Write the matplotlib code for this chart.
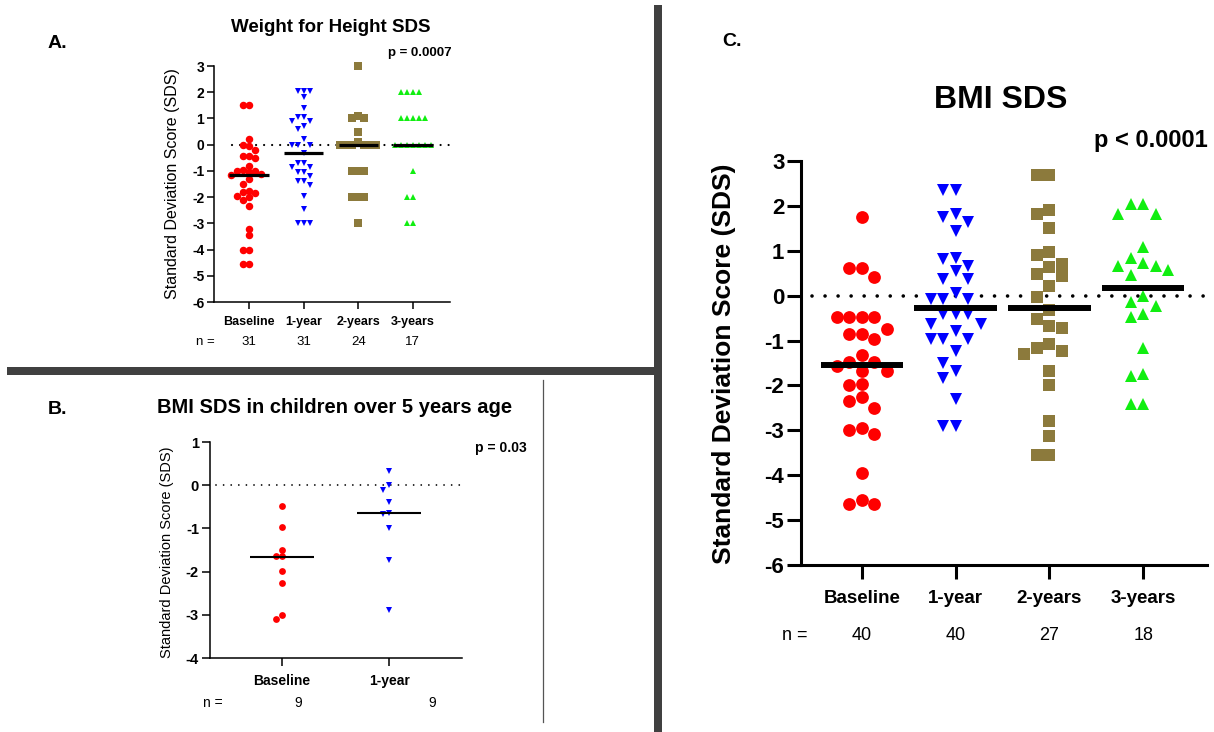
import numpy as np
import matplotlib
matplotlib.use("Agg")
import matplotlib.pyplot as plt
from matplotlib.patches import Rectangle
from matplotlib.lines import Line2D
from matplotlib.transforms import offset_copy

plt.rcParams['font.family'] = ['Liberation Sans', 'DejaVu Sans']
plt.rcParams['axes.unicode_minus'] = False

W, H = 1214, 732

# ---- data ----
# A. Weight for Height SDS
groups_a = ['Baseline', '1-year', '2-years', '3-years']
n_a = [31, 31, 24, 17]
a_baseline = [1.5, 1.5, 0.2, 0.0, -0.05, -0.2, -0.45, -0.45, -0.5, -0.8, -0.95, -1.0, -1.0,
              -1.05, -1.1, -1.15, -1.3, -1.5, -1.75, -1.8, -1.85, -1.95, -2.0, -2.1, -2.35,
              -3.2, -3.45, -4.0, -4.0, -4.55, -4.55]
a_1year = [2.05, 2.05, 2.05, 1.8, 1.4, 1.05, 1.05, 0.9, 0.9, 0.7, 0.6, 0.2, 0.0, 0.0, 0.0,
           -0.3, -0.7, -0.7, -0.85, -0.85, -1.05, -1.05, -1.2, -1.4, -1.4, -1.55, -1.95,
           -2.45, -3.0, -3.0, -3.0]
a_2years = [3.0, 1.1, 1.0, 1.0, 0.5, 0.1, 0.0, 0.0, 0.0, 0.0, 0.0, 0.0,
            -1.0, -1.0, -1.0, -2.0, -2.0, -2.0, -3.0]
a_3years = [2.0, 2.0, 2.0, 2.0, 1.0, 1.0, 1.0, 1.0, 1.0, 0.0, 0.0, 0.0, 0.0, 0.0, 0.0, 0.0,
            -1.0, -2.0, -2.0, -3.0, -3.0]
med_a = [-1.15, -0.3, 0.0, 0.0]

# B. BMI SDS in children over 5 years age
groups_b = ['Baseline', '1-year']
n_b = [9, 9]
b_baseline = [-0.49, -0.97, -1.49, -1.63, -1.65, -1.98, -2.26, -3.0, -3.09]
b_1year = [0.32, 0.01, -0.12, -0.39, -0.64, -0.66, -0.99, -1.72, -2.88]
med_b = [-1.67, -0.64]

# C. BMI SDS
groups_c = ['Baseline', '1-year', '2-years', '3-years']
n_c = [40, 40, 27, 18]
c_baseline = [1.75, 0.61, 0.61, 0.42, -0.47, -0.47, -0.47, -0.47, -0.74, -0.85, -0.85, -0.96,
              -1.33, -1.48, -1.48, -1.56, -1.67, -1.67, -1.96, -1.98, -2.26, -2.35, -2.5,
              -2.94, -2.99, -3.09, -3.94, -4.56, -4.65, -4.65]
c_1year = [2.35, 2.35, 1.83, 1.75, 1.64, 1.45, 0.84, 0.82, 0.67, 0.56, 0.37, 0.37, 0.07,
           -0.07, -0.07, -0.07, -0.41, -0.41, -0.41, -0.63, -0.63, -0.78, -0.96, -0.96, -0.96,
           -1.23, -1.49, -1.68, -1.83, -2.31, -2.91, -2.91]
c_2years = [2.68, 2.68, 1.9, 1.83, 1.5, 0.97, 0.9, 0.71, 0.63, 0.48, 0.43, 0.22, -0.04, -0.32,
            -0.52, -0.67, -0.71, -1.08, -1.16, -1.23, -1.29, -1.68, -1.98, -2.8, -3.13,
            -3.54, -3.54]
c_3years = [2.05, 2.05, 1.83, 1.83, 1.08, 0.84, 0.72, 0.67, 0.65, 0.58, 0.45, 0.0, -0.15,
            -0.22, -0.41, -0.48, -1.16, -1.75, -1.79, -2.42, -2.42]
med_c = [-1.54, -0.28, -0.28, 0.17]

colors = ['#ff0000', '#0000ff', '#8c7a3c', '#11ee11']
markers = ['o', 'v', 's', '^']


def rect(l, t, r, b):
    return [l / W, 1 - b / H, (r - l) / W, (b - t) / H]


def swarm(values, step_px, px_x, px_y):
    # simple column swarm like Prism's scatter dot plot
    vals = np.asarray(values, dtype=float)
    offs = np.zeros(len(vals))
    placed = []
    cands = [0]
    for j in range(1, 30):
        cands += [-j, j]
    for i in np.argsort(-vals, kind='stable'):
        y = vals[i] * px_y
        for c in cands:
            x = c * step_px
            if all((x - px) ** 2 + (y - py) ** 2 >= (0.97 * step_px) ** 2 for px, py in placed):
                break
        placed.append((x, y))
        offs[i] = x / px_x
    return offs


def panel(ax, series, meds, xlim, ylim, px_x, px_y, step, msizes, med_half, med_lw,
          zero_span, dot_lw, dot_gap, spine_lw, tick_len, tick_fs, cat_fs, cat_pad):
    for i, vals in enumerate(series):
        offs = swarm(vals, step, px_x, px_y)
        ax.plot(i + offs, vals, linestyle='none', marker=markers[i], color=colors[i],
                markersize=msizes[i], markeredgewidth=0, zorder=3, clip_on=False)
        ax.plot([i - med_half, i + med_half], [meds[i], meds[i]], color='black',
                lw=med_lw, solid_capstyle='butt', zorder=4)
    ax.plot(zero_span, [0, 0], color='black', lw=dot_lw, linestyle=(0, (0.01, dot_gap)),
            dash_capstyle='round', zorder=2, clip_on=False)
    ax.set_xlim(*xlim)
    ax.set_ylim(*ylim)
    for s in ['top', 'right']:
        ax.spines[s].set_visible(False)
    for s in ['left', 'bottom']:
        ax.spines[s].set_linewidth(spine_lw)
    ax.tick_params(direction='out', length=tick_len, width=spine_lw, labelsize=tick_fs, pad=2)
    ax.tick_params(axis='x', labelsize=cat_fs, pad=cat_pad)
    for lbl in ax.get_yticklabels() + ax.get_xticklabels():
        lbl.set_fontweight('bold')
    ax.patch.set_alpha(0)


fig = plt.figure(figsize=(W / 100, H / 100), dpi=100)

# ---- panel A ----
axA = fig.add_axes(rect(214, 66, 450, 302))
axA.set_xticks(range(4))
axA.set_xticklabels(groups_a)
axA.set_yticks(range(-6, 4))
panel(axA, [a_baseline, a_1year, a_2years, a_3years], med_a, (-0.64, 3.68), (-6, 3),
      54.7, 26.2, 6.0, [5.4, 4.9, 5.4, 4.9], 0.36, 2.3, [-0.31, 3.68], 1.6, 3.6,
      1.1, 5, 10, 9, 5)
# ---- panel B ----
axB = fig.add_axes(rect(210, 442, 462, 658))
axB.set_xticks(range(2))
axB.set_xticklabels(groups_b)
axB.set_yticks(range(-4, 2))
panel(axB, [b_baseline, b_1year], med_b, (-0.673, 1.68), (-4, 1),
      107.0, 43.2, 6.5, [4.9, 4.6], 0.3, 1.5, [-0.62, 1.68], 1.3, 4.2,
      1.1, 6, 10.5, 10, 5.5)
# ---- panel C ----
axC = fig.add_axes(rect(801, 161, 1207, 565))
axC.set_xticks(range(4))
axC.set_xticklabels(groups_c)
axC.set_yticks(range(-6, 4))
panel(axC, [c_baseline, c_1year, c_2years, c_3years], med_c, (-0.65, 3.68), (-6, 3),
      93.7, 44.9, 12.5, [9.2, 8.8, 8.8, 8.8], 0.44, 4.3, [-0.53, 3.66], 2.6, 3.6,
      2.2, 10, 16, 13.5, 8)

# ---- n = rows ----
def n_row(ax, ns, dy, fs, dxs=None):
    tr = offset_copy(ax.get_xaxis_transform(), fig=fig, y=-dy, units='dots')
    for i, n in enumerate(ns):
        dx = 0 if dxs is None else dxs[i]
        t = offset_copy(tr, fig=fig, x=dx, units='dots')
        ax.text(i, 0, str(n), transform=t, ha='center', va='center', fontsize=fs)


n_row(axA, n_a, 40, 9.5)
fig.text(205 / W, 1 - 342 / H, 'n =', ha='center', va='center', fontsize=9.5)
n_row(axB, n_b, 45, 10, dxs=[16, 43])
fig.text(213 / W, 1 - 703 / H, 'n =', ha='center', va='center', fontsize=10)
n_row(axC, n_c, 70, 13)
fig.text(795 / W, 1 - 635 / H, 'n =', ha='center', va='center', fontsize=13)

# ---- titles, labels ----
fig.text(48 / W, 1 - 44 / H, 'A.', fontsize=14, fontweight='bold', va='center')
fig.text(48 / W, 1 - 410 / H, 'B.', fontsize=14, fontweight='bold', va='center')
fig.text(722 / W, 1 - 42 / H, 'C.', fontsize=14, fontweight='bold', va='center')

fig.text(331 / W, 1 - 28 / H, 'Weight for Height SDS', fontsize=13.5, fontweight='bold',
         ha='center', va='center')
fig.text(452 / W, 1 - 53 / H, 'p = 0.0007', fontsize=9.5, fontweight='bold',
         ha='right', va='center')
fig.text(157 / W, 1 - 408 / H, 'BMI SDS in children over 5 years age', fontsize=14.5,
         fontweight='bold', ha='left', va='center')
fig.text(475 / W, 1 - 448 / H, 'p = 0.03', fontsize=10, fontweight='bold',
         ha='left', va='center')
fig.text(1001 / W, 1 - 100 / H, 'BMI SDS', fontsize=23, fontweight='bold',
         ha='center', va='center')
fig.text(1208 / W, 1 - 140 / H, 'p < 0.0001', fontsize=17, fontweight='bold',
         ha='right', va='center')

fig.text(172 / W, 1 - 184 / H, 'Standard Deviation Score (SDS)', fontsize=11.5,
         rotation=90, ha='center', va='center')
fig.text(167 / W, 1 - 552 / H, 'Standard Deviation Score (SDS)', fontsize=10.5,
         rotation=90, ha='center', va='center')
fig.text(724 / W, 1 - 364 / H, 'Standard Deviation Score (SDS)', fontsize=19,
         fontweight='bold', rotation=90, ha='center', va='center')

# ---- panel separators ----
fig.add_artist(Rectangle((654 / W, 0), 8 / W, 1 - 5 / H, transform=fig.transFigure,
                         color='#404040', lw=0))
fig.add_artist(Rectangle((7 / W, 1 - 375 / H), 647 / W, 8 / H, transform=fig.transFigure,
                         color='#404040', lw=0))
fig.add_artist(Line2D([543 / W, 543 / W], [1 - 380 / H, 1 - 722 / H],
                      transform=fig.transFigure, color='#555555', lw=0.9))

fig.savefig('out.png', dpi=100)
